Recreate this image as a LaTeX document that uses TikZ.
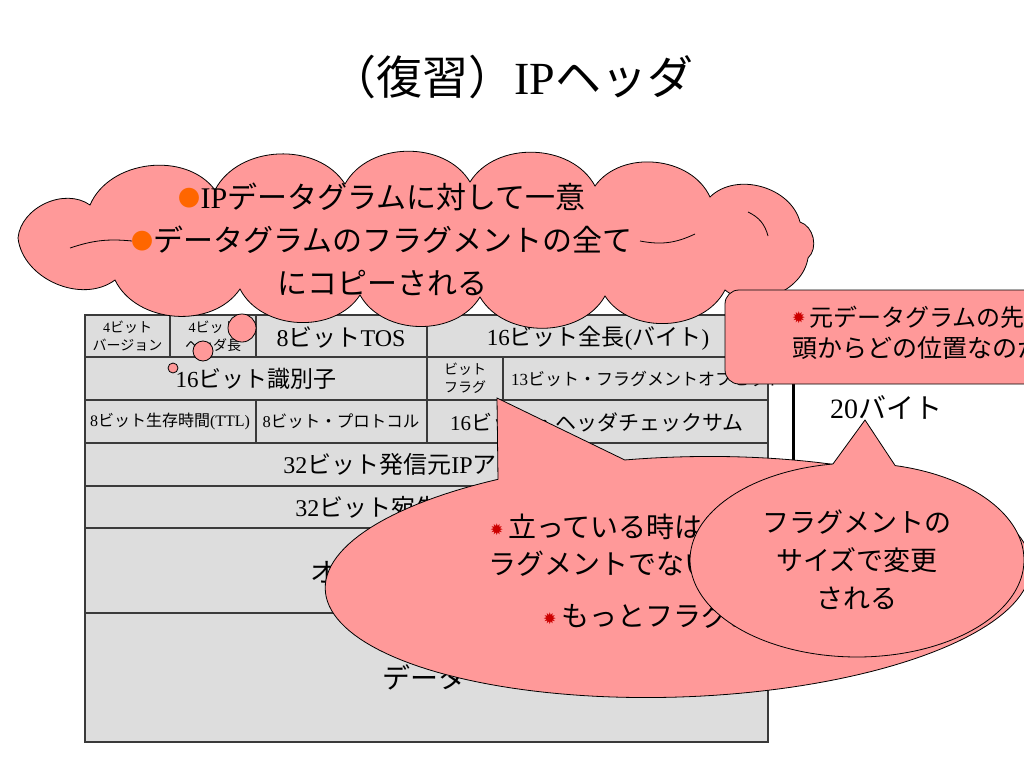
\documentclass[tikz,border=0pt]{standalone}
\usepackage{fontspec}
\setmainfont{Noto Sans CJK JP}
\newfontfamily\tm{Liberation Serif}
\newfontfamily\dv{DejaVu Sans}
\definecolor{pinkc}{HTML}{FF9999}
\definecolor{cellg}{HTML}{DDDDDD}
\definecolor{borderg}{HTML}{3A3A3A}
\definecolor{bulorange}{HTML}{FF6600}
\definecolor{bulred}{HTML}{CC0000}
\newcommand\T[1]{{\tm #1}}
\newcommand\fs[2]{\fontsize{#1}{#2}\selectfont}
\newcommand\ob{{\color{bulorange}\fontsize{22}{22}\selectfont\raisebox{0.08em}{●}}}
\newcommand\rb{{\dv\color{bulred}\fontsize{16}{16}\selectfont\raisebox{0.15em}{✹}}}
\tikzset{
  cell/.style={draw=borderg, fill=cellg, line width=1.2pt},
  callout/.style={draw=black, fill=pinkc, line width=0.8pt},
  puff/.style={bend left=60},
  txt/.style={inner sep=0pt, text=black, align=center},
}
\begin{document}
\begin{tikzpicture}[x=1pt,y=-1pt]
\useasboundingbox (0,0) rectangle (1024,768);
\clip (0,0) rectangle (1024,768);
\fill[white] (0,0) rectangle (1024,768);

% title
\node[txt, font=\fs{46}{52}] (title) at (512,77) {（復習）\T{IP}ヘッダ};

% table cells
\draw[cell] (85,315) rectangle (170,357);
\draw[cell] (170,315) rectangle (256,357);
\draw[cell] (256,315) rectangle (427,357);
\draw[cell] (427,315) rectangle (768,357);
\draw[cell] (85,357) rectangle (427,400);
\draw[cell] (427,357) rectangle (503,400);
\draw[cell] (503,357) rectangle (768,400);
\draw[cell] (85,400) rectangle (256,443);
\draw[cell] (256,400) rectangle (427,443);
\draw[cell] (427,400) rectangle (768,443);
\draw[cell] (85,443) rectangle (768,486);
\draw[cell] (85,486) rectangle (768,528);
\draw[cell] (85,528) rectangle (768,613);
\draw[cell] (85,613) rectangle (768,742);

% table texts
\node[txt, font=\fs{14}{18}] (tv) at (127.5,336) {\T{4}ビット\\バージョン};
\node[txt, font=\fs{14}{18}] (th) at (213,336) {\T{4}ビット\\ヘッダ長};
\node[txt, font=\fs{24}{28}] (ttos) at (341,338) {\T{8}ビット\T{TOS}};
\node[txt, font=\fs{23}{28}] (tlen) at (598,338) {\T{16}ビット全長\T{(}バイト\T{)}};
\node[txt, font=\fs{23}{28}] (tid) at (256,379) {\T{16}ビット識別子};
\node[txt, font=\fs{14}{18}] (tfl) at (465,378) {ビット\\フラグ};
\node[txt, font=\fs{17}{20}, anchor=west] (toff) at (511,379) {\T{13}ビット・フラグメントオフセット};
\node[txt, font=\fs{16}{20}] (tttl) at (170,421) {\T{8}ビット生存時間\T{(TTL)}};
\node[txt, font=\fs{16.5}{20}] (tpro) at (341,421) {\T{8}ビット・プロトコル};
\node[txt, font=\fs{21}{24}] (tsum) at (597,422) {\T{16}ビット・ヘッダチェックサム};
\node[txt, font=\fs{24}{28}] (tsrc) at (426,464) {\T{32}ビット発信元\T{IP}アドレス};
\node[txt, font=\fs{24}{28}] (tdst) at (426,507) {\T{32}ビット宛先\T{IP}アドレス};
\node[txt, font=\fs{27}{30}, anchor=west] (topt) at (310,572) {オプション};
\node[txt, font=\fs{28}{32}] (tdata) at (424,677) {データ};

% 20 byte marker
\coordinate (vt) at (793,315);
\coordinate (vb) at (793,528);
\draw[line width=3pt] (vt) -- (vb);
\node[txt, font=\fs{28}{32}] (b20) at (886,407) {\T{20}バイト};

% cloud callout
\draw[callout] (18,238) to[puff] (90,205) to[puff] (215,190) to[puff] (345,184)
  to[puff] (470,182) to[puff] (595,186) to[puff] (710,197) to[puff] (800,222)
  to[puff] (808,258) to[puff] (725,290) to[puff] (605,296) to[puff] (480,297)
  to[puff] (360,295) to[puff] (240,289) to[puff] (115,280) to[puff] (18,238) -- cycle;
\draw[line width=0.8pt] (70,248) to[bend left=12] (132,241);
\draw[line width=0.8pt] (640,241) to[bend right=18] (695,234);
\draw[line width=0.8pt] (748,212) to[bend left=25] (768,236);
\draw[callout] (242,328) circle[radius=14];
\draw[callout] (203,351) circle[radius=10];
\draw[callout] (173,368) circle[radius=5];
\node[txt, font=\fs{30}{43}] (ct) at (382,239)
  {\ob\T{IP}データグラムに対して一意\\\ob データグラムのフラグメントの全て\\にコピーされる};

% rounded rectangle callout
\draw[callout, rounded corners=14pt] (725,290) rectangle (1070,384);
\node[txt, font=\fs{24}{28}, anchor=west] (r1) at (792,317) {\rb\,元データグラムの先};
\node[txt, font=\fs{25}{28}, anchor=west] (r2) at (792,348) {頭からどの位置なのか};

% big ellipse callout (flags)
\coordinate (tipA) at (497,398);
\draw[callout] plot[variable=\t, domain=-98:240, samples=160]
  ({678 + 353*cos(\t)*0.99939 + 120*sin(\t)*0.0349},
   {577 - 353*cos(\t)*0.0349 + 120*sin(\t)*0.99939}) -- (tipA) -- cycle;
\node[txt, font=\fs{28}{32}, anchor=west] (f1) at (490,527) {\rb\,立っている時はフ};
\node[txt, font=\fs{28}{32}, anchor=west] (f2) at (488,564) {ラグメントでない};
\node[txt, font=\fs{28}{32}, anchor=west] (f3) at (543,616) {\rb\,もっとフラグメント};

% 20 byte ellipse callout
\coordinate (tipB) at (865,420);
\draw[callout] plot[variable=\t, domain=-76.8:261.7, samples=160]
  ({857 + 167*cos(\t)}, {560 + 97*sin(\t)}) -- (tipB) -- cycle;
\node[txt, font=\fs{27}{38}] (sz) at (857,560) {フラグメントの\\サイズで変更\\される};
\end{tikzpicture}
\end{document}
